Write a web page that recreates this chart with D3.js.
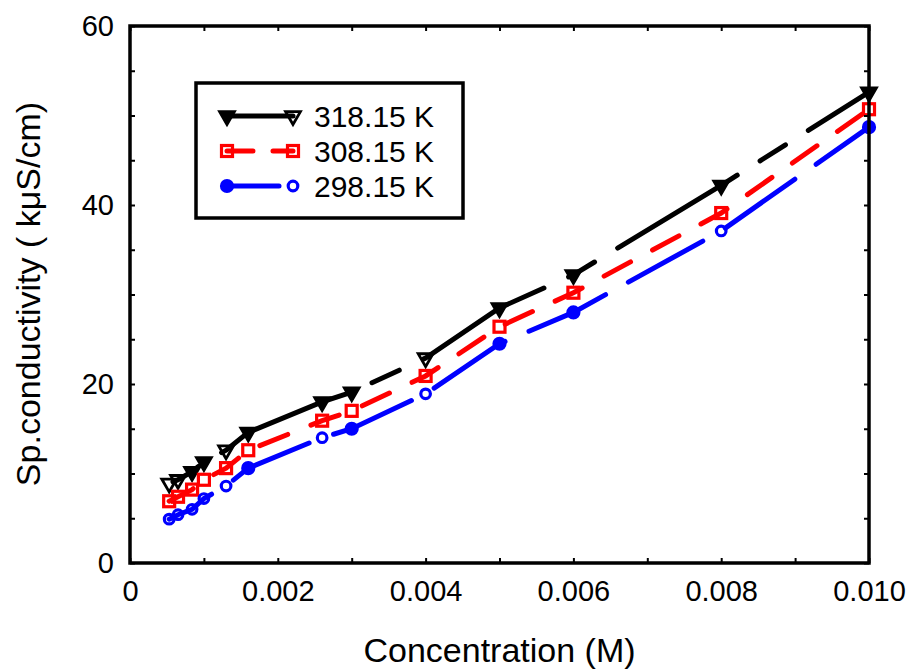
<!DOCTYPE html>
<html lang="en">
<head>
<meta charset="UTF-8">
<title>Sp.conductivity vs Concentration</title>
<style>
    body { margin: 0; background: #ffffff; }
    svg { display: block; font-family: "Liberation Sans", Arial, sans-serif; }
    .axis path { display: none; }
    .axis line { stroke: #000; stroke-width: 2; }
    .axis text { font-size: 29px; fill: #000; }
</style>
</head>
<body>
<script src="https://d3js.org/d3.v7.min.js"></script>
<script>
    // data
    var conc = [0.00053, 0.00065, 0.00084, 0.001, 0.0013, 0.0016, 0.0026, 0.003, 0.004, 0.005, 0.006, 0.008, 0.010];
    var k318 = [8.9, 9.3, 10.2, 11.3, 12.6, 14.6, 18.0, 19.1, 22.9, 28.5, 32.2, 42.2, 52.6];
    var k308 = [6.9, 7.4, 8.2, 9.3, 10.6, 12.6, 15.9, 17.0, 20.9, 26.4, 30.2, 39.1, 50.7];
    var k298 = [4.9, 5.4, 6.0, 7.2, 8.6, 10.6, 14.0, 15.0, 18.9, 24.5, 28.0, 37.1, 48.7];
    // which markers look filled in the picture
    var fill318 = [0, 0, 1, 1, 0, 1, 1, 1, 0, 1, 1, 1, 1];
    var fill308 = [0, 0, 0, 0, 0, 0, 0, 0, 0, 0, 0, 0, 0];
    var fill298 = [0, 0, 0, 0, 0, 1, 0, 1, 0, 1, 1, 0, 1];
    var seriesNames = ["318.15 K", "308.15 K", "298.15 K"];
    var xTicks = [0, 0.001, 0.002, 0.003, 0.004, 0.005, 0.006, 0.007, 0.008, 0.009, 0.010];
    var yTicks = [0, 5, 10, 15, 20, 25, 30, 35, 40, 45, 50, 55, 60];

    var width = 911, height = 670;
    var plot = {left: 130, right: 869, top: 26, bottom: 563};

    var svg = d3.select("body").append("svg")
        .attr("width", width)
        .attr("height", height);

    var x = d3.scaleLinear().domain([0, 0.010]).range([plot.left, plot.right]);
    var y = d3.scaleLinear().domain([0, 60]).range([plot.bottom, plot.top]);

    var series = [
        {name: seriesNames[0], values: k318, filled: fill318, color: "#000000", marker: "tri",
            dash: [140, 27, 30, 27], anchor: 8, shift: -2},
        {name: seriesNames[1], values: k308, filled: fill308, color: "#ff0000", marker: "sq",
            dash: [30, 25], anchor: 11, shift: -23},
        {name: seriesNames[2], values: k298, filled: fill298, color: "#0000ff", marker: "circ",
            dash: [85, 26], anchor: 11, shift: 5}
    ];

    // dash phase so the dashes fall where they do in the picture
    function dashOffset(s) {
        var len = 0;
        for (var i = 1; i <= s.anchor; i++) {
            var dx = x(conc[i]) - x(conc[i - 1]);
            var dy = y(s.values[i]) - y(s.values[i - 1]);
            len += Math.sqrt(dx * dx + dy * dy);
        }
        var period = d3.sum(s.dash);
        var start = len + s.shift;
        return ((period - (start % period)) % period);
    }

    var line = d3.line()
        .x(function(d) { return x(d[0]); })
        .y(function(d) { return y(d[1]); });

    series.forEach(function(s) {
        var pts = conc.map(function(c, i) { return [c, s.values[i]]; });
        svg.append("path")
            .datum(pts)
            .attr("fill", "none")
            .attr("stroke", s.color)
            .attr("stroke-width", 5)
            .attr("stroke-linecap", "round")
            .attr("stroke-dasharray", s.dash.join(","))
            .attr("stroke-dashoffset", dashOffset(s))
            .attr("d", line);
    });

    function drawMarker(g, type, cx, cy, color, filled) {
        if (type == "tri") {
            g.append("path")
                .attr("d", d3.symbol().type(d3.symbolTriangle).size(95)())
                .attr("transform", "translate(" + cx + "," + cy + ") rotate(180)")
                .attr("fill", filled ? color : "none")
                .attr("stroke", color)
                .attr("stroke-width", 2.8)
                .attr("stroke-linejoin", "miter");
        } else if (type == "sq") {
            g.append("rect")
                .attr("x", cx - 5.5).attr("y", cy - 5.5)
                .attr("width", 11).attr("height", 11)
                .attr("fill", "none")
                .attr("stroke", color)
                .attr("stroke-width", 3.2);
        } else {
            g.append("circle")
                .attr("cx", cx).attr("cy", cy)
                .attr("r", filled ? 5.5 : 4.8)
                .attr("fill", filled ? color : "none")
                .attr("stroke", color)
                .attr("stroke-width", 3.2);
        }
    }

    var marks = svg.append("g");
    series.forEach(function(s) {
        conc.forEach(function(c, i) {
            drawMarker(marks, s.marker, x(c), y(s.values[i]), s.color, s.filled[i]);
        });
    });

    // axes with inward ticks
    var fmtX = function(d) { return d == 0 ? "0" : d.toFixed(3); };
    svg.append("g")
        .attr("class", "axis")
        .attr("transform", "translate(0," + plot.bottom + ")")
        .call(d3.axisBottom(x).tickValues(xTicks).tickSize(-5).tickPadding(17)
            .tickFormat(function(d, i) { return i % 2 == 0 ? fmtX(d) : ""; }));
    svg.append("g")
        .attr("class", "axis")
        .attr("transform", "translate(0," + plot.top + ")")
        .call(d3.axisTop(x).tickValues(xTicks).tickSize(-5).tickFormat(""));
    svg.append("g")
        .attr("class", "axis")
        .attr("transform", "translate(" + plot.left + ",0)")
        .call(d3.axisLeft(y).tickValues(yTicks).tickSize(-5).tickPadding(16)
            .tickFormat(function(d) { return d % 20 == 0 ? d : ""; }));
    svg.append("g")
        .attr("class", "axis")
        .attr("transform", "translate(" + plot.right + ",0)")
        .call(d3.axisRight(y).tickValues(yTicks).tickSize(-5).tickFormat(""));

    // frame
    svg.append("rect")
        .attr("x", plot.left).attr("y", plot.top)
        .attr("width", plot.right - plot.left).attr("height", plot.bottom - plot.top)
        .attr("fill", "none")
        .attr("stroke", "#000")
        .attr("stroke-width", 3.5);

    // titles
    svg.append("text")
        .attr("x", (plot.left + plot.right) / 2)
        .attr("y", 662)
        .attr("text-anchor", "middle")
        .attr("font-size", 34)
        .text("Concentration (M)");
    svg.append("text")
        .attr("transform", "translate(40," + 294 + ") rotate(-90)")
        .attr("text-anchor", "middle")
        .attr("font-size", 34)
        .text("Sp.conductivity ( k\u03bcS/cm)");

    // legend
    var legend = svg.append("g");
    legend.append("rect")
        .attr("x", 196).attr("y", 83)
        .attr("width", 267).attr("height", 135)
        .attr("fill", "#fff")
        .attr("stroke", "#000")
        .attr("stroke-width", 3.5);
    var rowY = [116, 151, 186];
    var legDash = ["none", "26,20", "52,14"];
    series.forEach(function(s, i) {
        legend.append("line")
            .attr("x1", 227).attr("x2", 293)
            .attr("y1", rowY[i]).attr("y2", rowY[i])
            .attr("stroke", s.color)
            .attr("stroke-width", 5)
            .attr("stroke-linecap", "round")
            .attr("stroke-dasharray", legDash[i]);
        drawMarker(legend, s.marker, 227, rowY[i], s.color, s.marker != "sq");
        drawMarker(legend, s.marker, 293, rowY[i], s.color, false);
        legend.append("text")
            .attr("x", 314)
            .attr("y", rowY[i])
            .attr("dy", "0.36em")
            .attr("font-size", 30)
            .text(s.name);
    });
</script>
</body>
</html>
